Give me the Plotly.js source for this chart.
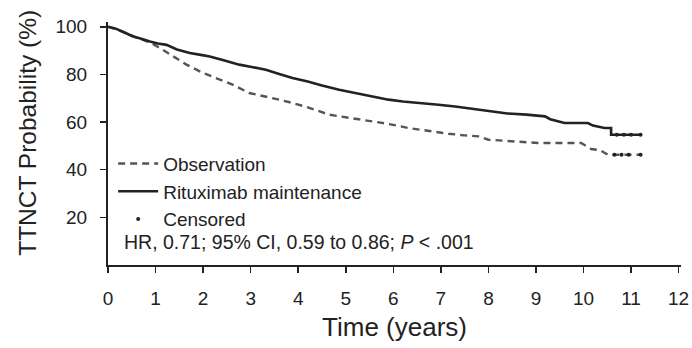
<!DOCTYPE html>
<html>
<head>
<meta charset="utf-8">
<script src="https://cdn.plot.ly/plotly-3.0.1.min.js"></script>
<style>
  html, body { margin: 0; padding: 0; background: #fff; }
  #chart { width: 692px; height: 348px; }
</style>
</head>
<body>
<div id="chart"></div>
<script>
// Kaplan-Meier time to next chemotherapy (TTNCT), in years / percent
const rituximabTime = [0, 0.15, 0.3, 0.53, 0.7, 0.88, 1.05, 1.23, 1.45, 1.72, 1.95, 2.14, 2.45, 2.76, 3.05, 3.32, 3.6, 3.88, 4.2, 4.5, 4.86, 5.2, 5.55, 5.9, 6.2, 6.5, 6.95, 7.3, 7.79, 8.0, 8.4, 8.8, 9.19, 9.3, 9.6, 10.09, 10.2, 10.44, 10.58, 10.58, 11.21];
const rituximabSurv = [100, 99.3, 98.0, 95.9, 95.0, 93.8, 93.0, 92.4, 90.5, 89.0, 88.2, 87.5, 85.8, 84.1, 83.0, 82.0, 80.2, 78.5, 77.0, 75.3, 73.6, 72.2, 70.9, 69.4, 68.6, 68.2, 67.3, 66.5, 65.2, 64.5, 63.6, 63.1, 62.4, 61.2, 59.6, 59.6, 58.5, 57.5, 57.5, 54.7, 54.7];

const observationTime = [0, 0.3, 0.6, 0.9, 1.09, 1.3, 1.65, 2.0, 2.3, 2.62, 2.97, 3.32, 3.6, 3.88, 4.2, 4.65, 5.0, 5.49, 5.9, 6.32, 6.7, 7.16, 7.5, 7.79, 8.0, 8.5, 9.05, 9.95, 10.16, 10.35, 10.51, 11.21];
const observationSurv = [100, 98.0, 95.5, 93.3, 91.1, 88.5, 84.1, 80.6, 78.2, 75.7, 72.2, 70.8, 69.4, 68.0, 66.2, 63.1, 62.0, 60.3, 59.2, 57.5, 56.4, 55.1, 54.4, 54.0, 52.6, 52.0, 51.2, 51.2, 48.7, 48.2, 46.3, 46.3];

// censored patients near the end of follow-up
const censoredTime = [10.7, 10.85, 11.0, 11.2, 10.65, 10.8, 10.95, 11.2];
const censoredSurv = [54.7, 54.7, 54.7, 54.7, 46.3, 46.3, 46.3, 46.3];

const xTicks = [0, 1, 2, 3, 4, 5, 6, 7, 8, 9, 10, 11, 12];
const yTicks = [20, 40, 60, 80, 100];

const FONT = 'Liberation Sans, Arial, sans-serif';
const INK = '#222';

const traces = [
  {
    x: observationTime, y: observationSurv, name: 'Observation',
    type: 'scatter', mode: 'lines',
    line: { color: '#555', width: 2.4, dash: '7px,5px' }
  },
  {
    x: rituximabTime, y: rituximabSurv, name: 'Rituximab maintenance',
    type: 'scatter', mode: 'lines',
    line: { color: INK, width: 2.6 }
  },
  {
    x: censoredTime, y: censoredSurv, name: 'Censored',
    type: 'scatter', mode: 'markers',
    marker: { color: INK, size: 4, symbol: 'circle' }
  }
];

const layout = {
  width: 692, height: 348,
  margin: { l: 108, r: 11, t: 22, b: 83 },
  paper_bgcolor: '#fff', plot_bgcolor: '#fff',
  font: { family: FONT, color: INK },
  showlegend: true,
  legend: {
    x: 0.009, y: 0.495, xanchor: 'left', yanchor: 'top',
    bgcolor: 'rgba(0,0,0,0)',
    font: { size: 19, color: INK, family: FONT },
    tracegroupgap: 0, itemwidth: 40
  },
  xaxis: {
    range: [0, 12.05], tickvals: xTicks, ticktext: xTicks.map(String),
    showgrid: false, zeroline: false,
    showline: true, linecolor: INK, linewidth: 2,
    ticks: 'outside', ticklen: 6, tickwidth: 1.5, tickcolor: INK,
    ticklabelstandoff: 9,
    tickfont: { size: 19, color: INK },
    title: { text: 'Time (years)', font: { size: 26, color: INK }, standoff: 10 }
  },
  yaxis: {
    range: [0, 102], tickvals: yTicks, ticktext: yTicks.map(String),
    showgrid: false, zeroline: false,
    showline: true, linecolor: INK, linewidth: 2,
    ticks: 'outside', ticklen: 6, tickwidth: 1.5, tickcolor: INK,
    ticklabelstandoff: 9,
    tickfont: { size: 19, color: INK }
  },
  annotations: [
    {
      // y-axis title, set a little above the plot's vertical centre
      xref: 'paper', yref: 'paper', x: -0.1396, y: 0.544,
      xanchor: 'center', yanchor: 'middle', showarrow: false,
      textangle: -90,
      text: 'TTNCT Probability (%)',
      font: { size: 24.5, color: INK, family: FONT }
    },
    {
      xref: 'paper', yref: 'paper', x: 0.024, y: 0.0965,
      xanchor: 'left', yanchor: 'middle', showarrow: false,
      text: 'HR, 0.71; 95% CI, 0.59 to 0.86; <i>P</i> &lt; .001',
      font: { size: 19.5, color: INK, family: FONT }
    }
  ]
};

Plotly.newPlot('chart', traces, layout, { staticPlot: true, displayModeBar: false });
</script>
</body>
</html>
